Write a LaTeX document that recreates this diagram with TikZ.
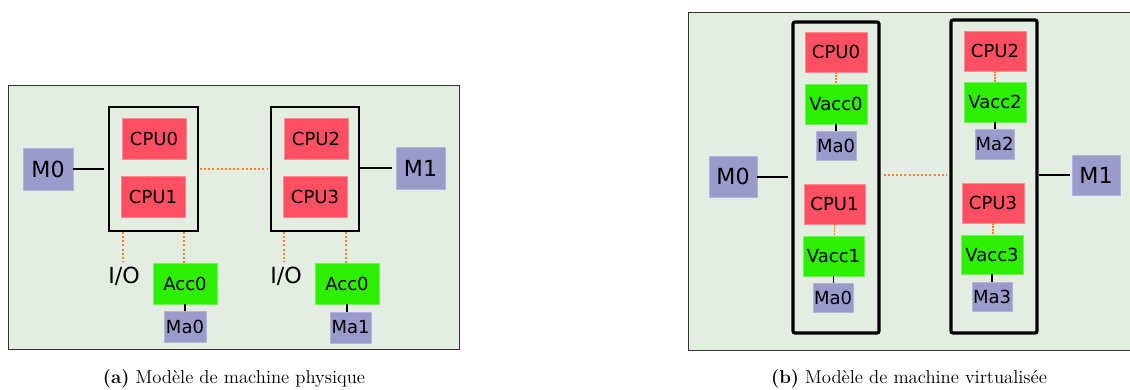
\documentclass[tikz,border=0pt]{standalone}
\usepackage{fontspec}
\newfontfamily\dv{DejaVu Sans}
\usetikzlibrary{calc}
\definecolor{bg}{HTML}{E3EDE1}
\definecolor{cpured}{HTML}{FF4F63}
\definecolor{cpuedge}{HTML}{FF8A96}
\definecolor{accgreen}{HTML}{2CF000}
\definecolor{accedge}{HTML}{6CF850}
\definecolor{memblue}{HTML}{9A9ACB}
\definecolor{memedge}{HTML}{B4B4DA}
\definecolor{dotorange}{HTML}{FF7F2A}
\definecolor{paneledge}{HTML}{333333}
\tikzset{
  x=0.6pt, y=-0.6pt,
  wh/.style 2 args={minimum width=#1*0.6pt, minimum height=#2*0.6pt, inner sep=0pt},
  cpubox/.style={fill=cpured, draw=cpuedge, line width=0.4pt, font=\dv\fontsize{10.8}{12}\selectfont},
  accbox/.style={fill=accgreen, draw=accedge, line width=0.4pt, font=\dv\fontsize{10.8}{12}\selectfont},
  membox/.style={fill=memblue, draw=memedge, line width=0.4pt, font=\dv\fontsize{10.8}{12}\selectfont},
  bigmem/.style={fill=memblue, draw=memedge, line width=0.4pt, font=\dv\fontsize{13.3}{15}\selectfont},
  nodebox/.style={draw=black, line width=1.1pt},
  vnodebox/.style={draw=black, line width=1.9pt, rounded corners=1.2pt},
  panel/.style={fill=bg, draw=paneledge, line width=0.6pt},
  link/.style={draw=black, line width=1.2pt},
  thinlink/.style={draw=black, line width=1pt},
  dotlink/.style={draw=dotorange, line width=1.2pt, dash pattern=on 1.2pt off 1.3pt},
  thindot/.style={draw=dotorange, line width=0.9pt, dash pattern=on 0.9pt off 0.9pt},
  iotext/.style={font=\dv\fontsize{13.3}{15}\selectfont, inner sep=0pt},
  caption/.style={font=\fontsize{11.2}{13}\selectfont, inner sep=0pt, anchor=base}
}
\begin{document}
\begin{tikzpicture}
\useasboundingbox (0,0) rectangle (1130,389);
% ---------- panel (a)
\node[panel, wh={451}{264}] (panelA) at (233.5,217) {};
\node[nodebox, wh={89}{124}] (boxL) at (153.5,169) {};
\node[nodebox, wh={88}{124}] (boxR) at (315,169) {};
\node[cpubox, wh={64}{41}] (cpu0a) at (154,138.5) {CPU0};
\node[cpubox, wh={64}{41}] (cpu1a) at (153,196.5) {CPU1};
\node[cpubox, wh={64}{41}] (cpu2a) at (316,138.5) {CPU2};
\node[cpubox, wh={64}{41}] (cpu3a) at (315,196.5) {CPU3};
\node[bigmem, wh={50}{42}] (m0a) at (48,169) {M0};
\node[bigmem, wh={49}{42}] (m1a) at (420.5,168) {M1};
\node[iotext] (ioL) at (124,276) {I/O};
\node[iotext] (ioR) at (286,276) {I/O};
\node[accbox, wh={64}{41}] (accL) at (185,283.5) {Acc0};
\node[accbox, wh={64}{41}] (accR) at (347,283.5) {Acc0};
\node[membox, wh={42}{31}] (ma0a) at (185,326.5) {Ma0};
\node[membox, wh={41}{31}] (ma1a) at (350.5,327.5) {Ma1};
\draw[link, shorten >=4*0.6pt] (m0a.east) -- (m0a.east -| boxL.west);
\draw[link, shorten >=4*0.6pt] (boxR.east |- m1a.west) -- (m1a.west);
\draw[dotlink] ($(boxL.east)+(1,0)$) -- ($(boxR.west)+(-2,0)$);
\draw[dotlink] (boxL.south -| ioL) ++(-1,0) coordinate (ioLtop) -- ($(ioL.north)+(-1,-5)$);
\draw[dotlink] (boxL.south -| accL) ++(-1,0) -- ($(accL.north)+(-1,0)$);
\draw[dotlink] (boxR.south -| ioR) ++(-2,0) -- ($(ioR.north)+(-2,-5)$);
\draw[dotlink] (boxR.south -| accR) ++(-1,0) -- ($(accR.north)+(-1,0)$);
\draw[thinlink] (accL.south) -- (accL.south |- ma0a.north);
\draw[thinlink] (accR.south) -- (accR.south |- ma1a.north);
% ---------- panel (b)
\path[panel] (1132,12) -- (688,12) -- (688,350) -- (1132,350);
\node[vnodebox, wh={86}{311}] (vboxL) at (836,177.5) {};
\node[vnodebox, wh={86}{313}] (vboxR) at (994,176.5) {};
\node[cpubox, wh={62}{40}] (cpu0b) at (836,52) {CPU0};
\node[accbox, wh={62}{40}] (vacc0) at (836,104) {Vacc0};
\node[membox, wh={40}{29}] (ma0b) at (836,145.5) {Ma0};
\node[cpubox, wh={61}{40}] (cpu1b) at (834.5,204) {CPU1};
\node[accbox, wh={61}{40}] (vacc1) at (833.5,256) {Vacc1};
\node[membox, wh={40}{29}] (ma0c) at (833,297.5) {Ma0};
\node[cpubox, wh={62}{40}] (cpu2b) at (995,51) {CPU2};
\node[accbox, wh={62}{40}] (vacc2) at (995,102) {Vacc2};
\node[membox, wh={39}{30}] (ma2b) at (994.5,144) {Ma2};
\node[cpubox, wh={62}{40}] (cpu3b) at (993,203) {CPU3};
\node[accbox, wh={62}{39}] (vacc3) at (992,254.5) {Vacc3};
\node[membox, wh={40}{29}] (ma3b) at (992,296.5) {Ma3};
\node[bigmem, wh={48}{41}] (m0b) at (733,176.5) {M0};
\node[bigmem, wh={48}{40}] (m1b) at (1096,175) {M1};
\draw[thindot] (cpu0b.south) -- (vacc0.north);
\draw[thindot] (cpu1b.south) -- (cpu1b.south |- vacc1.north);
\draw[thindot] (cpu2b.south) -- (vacc2.north);
\draw[thindot] (cpu3b.south) -- (cpu3b.south |- vacc3.north);
\draw[thinlink] (vacc0.south) -- (ma0b.north);
\draw[thinlink] (vacc1.south) -- (vacc1.south |- ma0c.north);
\draw[thinlink] (vacc2.south) -- (vacc2.south |- ma2b.north);
\draw[thinlink] (vacc3.south) -- (ma3b.north);
\draw[link, shorten >=3*0.6pt] (m0b.east) -- (m0b.east -| vboxL.west);
\draw[link, shorten >=2*0.6pt] (vboxR.east |- m1b.west) -- (m1b.west);
\draw[dotlink] ($(vboxL.east)+(3,-2.5)$) -- ($(vboxR.west)+(-3,-1.5)$);
% ---------- captions
\node[caption] (capA) at (234,383) {\textbf{(a)} Modèle de machine physique};
\node[caption] (capB) at (909,383) {\textbf{(b)} Modèle de machine virtualisée};
\end{tikzpicture}
\end{document}
